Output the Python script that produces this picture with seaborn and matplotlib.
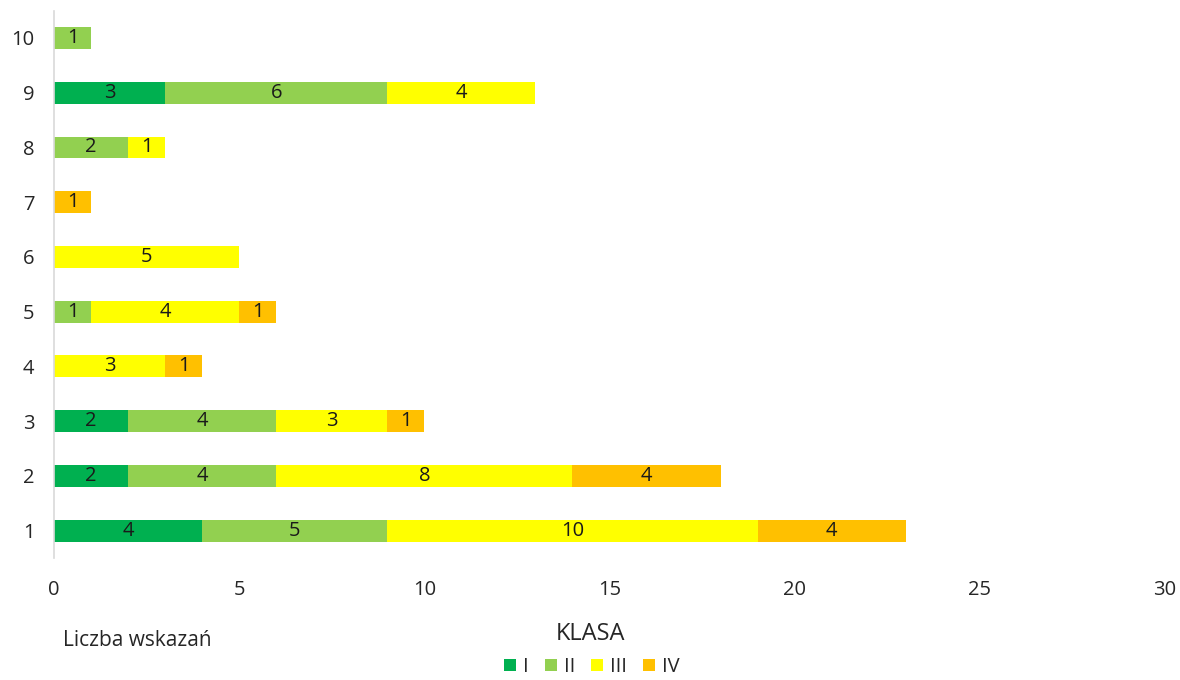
import matplotlib
matplotlib.use("Agg")
import matplotlib.pyplot as plt
import seaborn as sns
import pandas as pd
import numpy as np
from matplotlib.patches import Patch

categories = ["10", "9", "8", "7", "6", "5", "4", "3", "2", "1"]
klasa_I = [0, 3, 0, 0, 0, 0, 0, 2, 2, 4]
klasa_II = [1, 6, 2, 0, 0, 1, 0, 4, 4, 5]
klasa_III = [0, 4, 1, 0, 5, 4, 3, 3, 8, 10]
klasa_IV = [0, 0, 0, 1, 0, 1, 1, 1, 4, 4]
series_names = ["I", "II", "III", "IV"]
colors = ["#00B050", "#92D050", "#FFFF00", "#FFC000"]
x_ticks = [0, 5, 10, 15, 20, 25, 30]

sns.set_theme(style="white")
plt.rcParams["font.family"] = ["Open Sans", "DejaVu Sans"]

series = [klasa_I, klasa_II, klasa_III, klasa_IV]
df = pd.DataFrame({"cat": categories})
for name, vals in zip(series_names, series):
    df[name] = vals
cum = np.cumsum(np.array(series), axis=0)
for i, name in enumerate(series_names):
    df["cum_" + name] = cum[i]

fig = plt.figure(figsize=(11.8, 6.8), dpi=100)
ax = fig.add_axes([54 / 1180, 1 - 558 / 680, (1165 - 54) / 1180, (558 - 10.6) / 680])

# draw cumulative bars, largest first, so the stack appears
for i in reversed(range(len(series_names))):
    sns.barplot(data=df, y="cat", x="cum_" + series_names[i], order=categories,
                orient="h", color=colors[i], width=0.4, saturation=1,
                linewidth=0, ax=ax)

# labels in the center of each segment
for i, name in enumerate(series_names):
    for j, c in enumerate(categories):
        v = df[name].iloc[j]
        if v > 0:
            left = df["cum_" + name].iloc[j] - v
            ax.text(left + v / 2, j, str(v), ha="center", va="center",
                    fontsize=14.5, color="#1a1a1a")

ax.set_xlim(0, 30)
ax.set_ylim(len(categories) - 0.5, -0.5)
ax.set_xticks(x_ticks)
ax.set_xticklabels([str(t) for t in x_ticks])
ax.set_xlabel("")
ax.set_ylabel("")
ax.tick_params(axis="x", length=0, pad=16, labelsize=14.5, labelcolor="#262626")
ax.tick_params(axis="y", length=0, pad=14, labelsize=14.5, labelcolor="#262626")
for s in ["top", "right", "bottom"]:
    ax.spines[s].set_visible(False)
ax.spines["left"].set_color("#D9D9D9")
ax.spines["left"].set_linewidth(1.2)
ax.grid(False)

fig.text(63 / 1180, 1 - 640 / 680, "Liczba wskazań", ha="left", va="center",
         fontsize=15, color="#262626")
fig.text(590 / 1180, 1 - 634 / 680, "KLASA", ha="center", va="center",
         fontsize=17, color="#262626")

handles = [Patch(facecolor=c, edgecolor="none") for c in colors]
fig.legend(handles, series_names, loc="center", bbox_to_anchor=(592 / 1180, 1 - 667 / 680),
           ncol=4, frameon=False, fontsize=14.5, handlelength=0.6, handleheight=0.6,
           handletextpad=0.35, columnspacing=0.8, labelcolor="#262626")

fig.savefig("out.png", dpi=100)
